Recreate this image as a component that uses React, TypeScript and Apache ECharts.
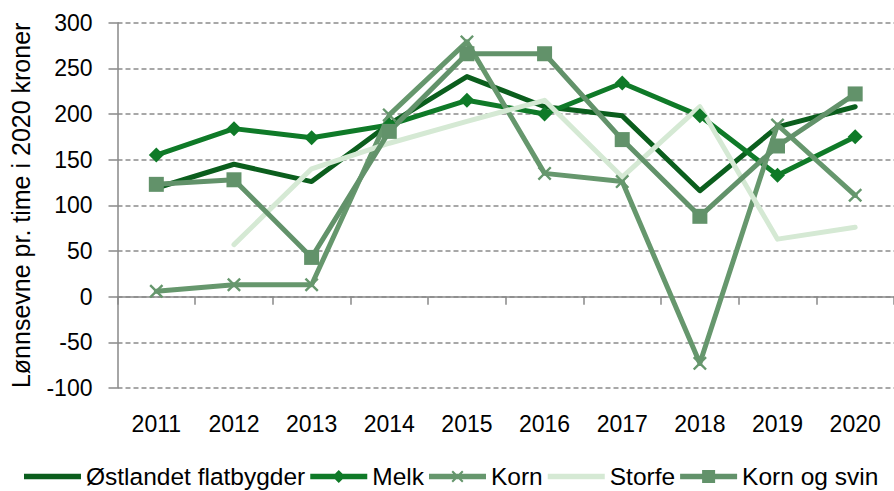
import React, { useEffect, useRef } from "react";
import * as echarts from "echarts";

const years = ["2011", "2012", "2013", "2014", "2015", "2016", "2017", "2018", "2019", "2020"];
const ostlandet = [119, 145, 126, 189, 241, 208, 198, 116, 186, 208];
const melk = [155, 184, 174, 188, 215, 200, 234, 198, 133, 175];
const korn = [6, 13, 13, 199, 279, 135, 126, -73, 188, 111];
const storfe = [null, 57, 140, 168, 192, 215, 131, 208, 63, 76];
const kornOgSvin = [123, 128, 43, 181, 266, 266, 172, 88, 165, 222];
const seriesNames = ["Østlandet flatbygder", "Melk", "Korn", "Storfe", "Korn og svin"];
const yTicks = { min: -100, max: 300, interval: 50 };
const yAxisTitle = "Lønnsevne pr. time i 2020 kroner";

const FONT = "Liberation Sans";
const crossPath =
  "path://M0,1.2 L1.2,0 L5,3.8 L8.8,0 L10,1.2 L6.2,5 L10,8.8 L8.8,10 L5,6.2 L1.2,10 L0,8.8 L3.8,5 Z";

// legend icons drawn in a 57 x 14 box
const LW = 57;
const LH = 14;
const frame = `M0,0 L0.01,0 L0,0.01 Z M${LW},${LH} L${LW - 0.01},${LH} L${LW},${LH - 0.01} Z`;
const bar = `M0,4.2 L${LW},4.2 L${LW},9.8 L0,9.8 Z`;
const cx = LW / 2;
const diamond = `M${cx - 6.5},7 L${cx},0.5 L${cx + 6.5},7 L${cx},13.5 Z`;
const crossPts = [
  [0, 1.2], [1.2, 0], [5, 3.8], [8.8, 0], [10, 1.2], [6.2, 5],
  [10, 8.8], [8.8, 10], [5, 6.2], [1.2, 10], [0, 8.8], [3.8, 5],
];
const cross =
  "M" +
  crossPts.map(([x, y]) => `${(cx - 6 + x * 1.2).toFixed(2)},${(1 + y * 1.2).toFixed(2)}`).join(" L") +
  " Z";
const square = `M${cx - 6.5},0.5 L${cx + 6.5},0.5 L${cx + 6.5},13.5 L${cx - 6.5},13.5 Z`;
const icons = [
  "path://" + frame + " " + bar,
  "path://" + frame + " " + bar + " " + diamond,
  "path://" + frame + " " + bar + " " + cross,
  "path://" + frame + " " + bar,
  "path://" + frame + " " + bar + " " + square,
];

export default function App() {
  const ref = useRef<HTMLDivElement>(null);
  useEffect(() => {
    if (!ref.current) return;
    const chart = echarts.init(ref.current, undefined, { renderer: "svg" });
    const mk = (
      name: string,
      data: (number | null)[],
      color: string,
      width: number,
      symbol: string,
      symbolSize: number
    ) => ({
      name,
      type: "line",
      data,
      xAxisIndex: 0,
      symbol,
      symbolSize,
      showSymbol: symbol !== "none",
      connectNulls: false,
      lineStyle: { color, width, cap: "round", join: "round" },
      itemStyle: { color },
    });
    chart.setOption({
      animation: false,
      backgroundColor: "#ffffff",
      textStyle: { fontFamily: FONT },
      grid: { left: 117.5, top: 22.7, width: 783, height: 365.3, containLabel: false },
      legend: {
        left: 24,
        top: 464,
        width: 900,
        padding: 0,
        itemWidth: LW,
        itemHeight: LH,
        itemGap: 5,
        itemStyle: { borderWidth: 0 },
        textStyle: { fontFamily: FONT, fontSize: 24.5, color: "#000000" },
        data: seriesNames.map((n, i) => ({ name: n, icon: icons[i] })),
      },
      xAxis: [
        {
          type: "category",
          data: years,
          boundaryGap: true,
          axisLine: { onZero: true, lineStyle: { color: "#898989", width: 1.5 } },
          axisTick: { show: true, length: 8, lineStyle: { color: "#898989", width: 1.5 } },
          axisLabel: { show: false },
          splitLine: { show: false },
        },
        {
          type: "category",
          data: years,
          position: "bottom",
          boundaryGap: true,
          axisLine: { show: false, onZero: false },
          axisTick: { show: false },
          axisLabel: { show: true, fontFamily: FONT, fontSize: 23, color: "#000000", margin: 24 },
          splitLine: { show: false },
        },
      ],
      yAxis: {
        type: "value",
        min: yTicks.min,
        max: yTicks.max,
        interval: yTicks.interval,
        name: yAxisTitle,
        nameLocation: "middle",
        nameGap: 84,
        nameTextStyle: { fontFamily: FONT, fontSize: 25, color: "#000000" },
        axisLine: { show: true, lineStyle: { color: "#898989", width: 1.5 } },
        axisTick: { show: true, length: 9, lineStyle: { color: "#898989", width: 1.5 } },
        axisLabel: { fontFamily: FONT, fontSize: 23, color: "#000000", margin: 25 },
        splitLine: { show: true, lineStyle: { color: "#8c8c8c", width: 1.5, type: [5, 3] } },
      },
      series: [
        mk(seriesNames[0], ostlandet, "#0B5E1D", 5, "none", 0),
        mk(seriesNames[1], melk, "#0F7A28", 5, "diamond", 15),
        mk(seriesNames[2], korn, "#66976D", 5, crossPath, 14),
        mk(seriesNames[3], storfe, "#D5E9D4", 5, "none", 0),
        mk(seriesNames[4], kornOgSvin, "#62926A", 5, "rect", 15),
      ],
    });
    return () => chart.dispose();
  }, []);
  return <div ref={ref} style={{ width: 894, height: 491, position: "absolute", left: 0, top: 0 }} />;
}
